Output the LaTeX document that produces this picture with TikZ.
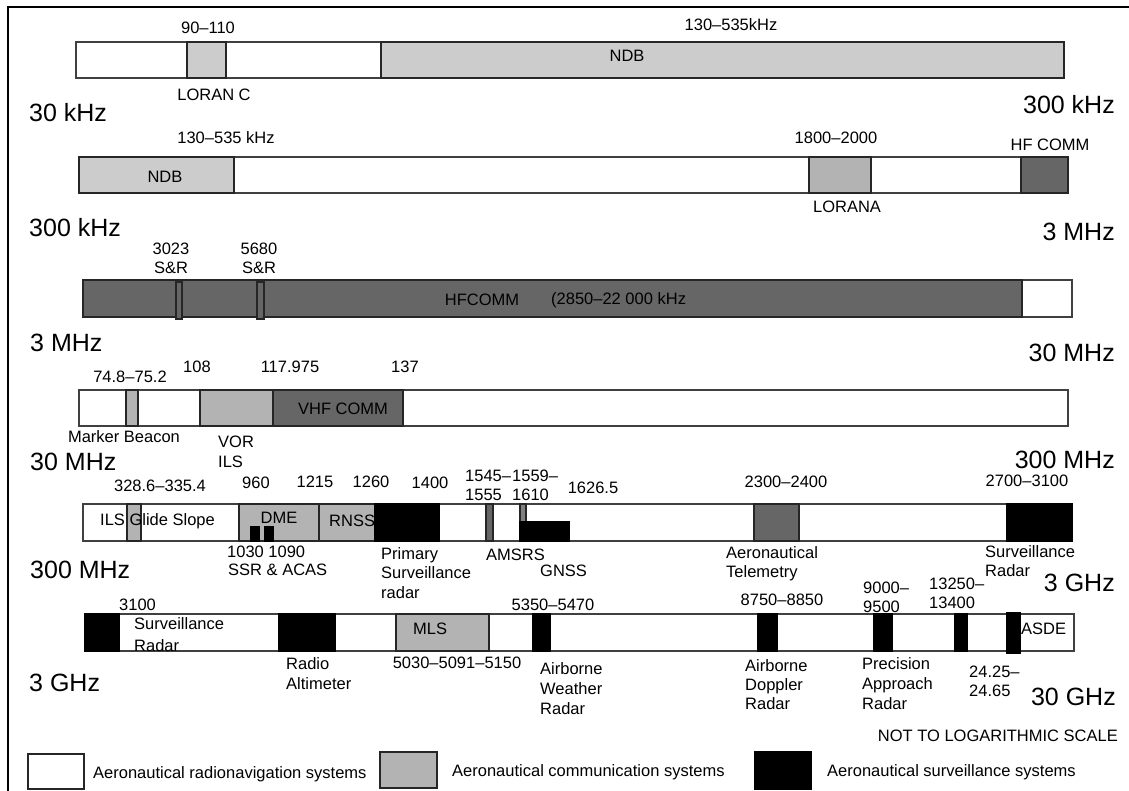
\documentclass[tikz,border=0pt]{standalone}
\usepackage{fontspec}
\setmainfont{Liberation Sans}
\definecolor{lg}{HTML}{CCCCCC}
\definecolor{mg}{HTML}{B3B3B3}
\definecolor{dg}{HTML}{666666}
\begin{document}
\begin{tikzpicture}[x=1pt,y=-1pt,
  lab/.style={font=\fontsize{16.5}{19}\selectfont,inner sep=0pt},
  mlab/.style={font=\fontsize{16.5}{#1}\selectfont,inner sep=0pt,align=left,anchor=west},
  big/.style={font=\fontsize{25}{28}\selectfont,inner sep=0pt},
  bar/.style={draw=black!75,line width=1.3pt,fill=white},
  seg/.style={draw=black!85,line width=1.3pt},
  lgt/.style={seg,fill=lg},
  mid/.style={seg,fill=mg},
  drk/.style={seg,fill=dg},
  blk/.style={seg,fill=black,draw=black}]
\path[use as bounding box] (0,0) rectangle (1129,791);
\draw[line width=1.8pt] (8,791) -- (8,7) -- (1129,7);

% ---------- band 1 : 30 kHz - 300 kHz
\draw[bar] (76,42) rectangle (1064,78);
\draw[lgt] (187,42) rectangle (226,78);
\draw[lgt] (381,42) rectangle (1064,78);
\node[lab] (b1a) at (208,28) {90–110};
\node[lab] (b1b) at (731,25) {130–535kHz};
\node[lab] (b1c) at (627,56) {NDB};
\node[lab] (b1d) at (214,95) {LORAN C};
\node[big,anchor=west] (b1l) at (29,113) {30 kHz};
\node[big,anchor=east] (b1r) at (1115,105) {300 kHz};

% ---------- band 2 : 300 kHz - 3 MHz
\draw[bar] (79,157) rectangle (1068,193);
\draw[lgt] (79,157) rectangle (234,193);
\draw[mid] (809,157) rectangle (871,193);
\draw[drk] (1021,157) rectangle (1068,193);
\node[lab] (b2a) at (226,138) {130–535 kHz};
\node[lab] (b2b) at (165,177) {NDB};
\node[lab] (b2c) at (836,138) {1800–2000};
\node[lab] (b2d) at (1050,145) {HF COMM};
\node[lab] (b2e) at (847,207) {LORANA};
\node[big,anchor=west] (b2l) at (29,228) {300 kHz};
\node[big,anchor=east] (b2r) at (1115,232) {3 MHz};

% ---------- band 3 : 3 MHz - 30 MHz
\draw[bar] (83,280) rectangle (1072,317);
\draw[drk] (83,280) rectangle (1022,317);
\draw[drk] (176,282) rectangle (182,319);
\draw[drk] (257,282) rectangle (264,319);
\node[lab,align=center,font=\fontsize{16.5}{19}\selectfont] (b3a) at (171,258) {3023\\S\&R};
\node[lab,align=center,font=\fontsize{16.5}{19}\selectfont] (b3b) at (259,258) {5680\\S\&R};
\node[lab] (b3c) at (482,300) {HFCOMM};
\node[lab,anchor=west] (b3d) at (551,300) {(2850–22 000 kHz};
\node[big,anchor=west] (b3l) at (30,343) {3 MHz};
\node[big,anchor=east] (b3r) at (1115,353) {30 MHz};

% ---------- band 4 : 30 MHz - 300 MHz
\draw[bar] (79,390) rectangle (1068,426);
\draw[mid] (126,390) rectangle (138,426);
\draw[mid] (200,390) rectangle (273,426);
\draw[drk] (273,390) rectangle (403,426);
\node[lab] (b4a) at (130,377) {74.8–75.2};
\node[lab] (b4b) at (197,367) {108};
\node[lab] (b4c) at (290,367) {117.975};
\node[lab] (b4d) at (405,367) {137};
\node[lab] (b4e) at (343,409) {VHF COMM};
\node[lab] (b4f) at (124,437) {Marker Beacon};
\node[mlab=20] (b4g) at (218,452) {VOR\\ILS};
\node[big,anchor=west] (b4l) at (30,462) {30 MHz};
\node[big,anchor=east] (b4r) at (1115,460) {300 MHz};

% ---------- band 5 : 300 MHz - 3 GHz
\draw[bar] (83,504) rectangle (1072,541);
\draw[mid] (127,504) rectangle (141,541);
\draw[mid] (239,504) rectangle (319,541);
\draw[blk] (251,527) rectangle (259,541);
\draw[blk] (265,527) rectangle (273,541);
\draw[mid] (319,504) rectangle (375,541);
\draw[blk] (375,504) rectangle (439,541);
\draw[drk] (486,504) rectangle (493,541);
\draw[seg,fill=gray] (520,504) rectangle (526,522);
\draw[blk] (520,522) rectangle (569,541);
\draw[drk] (754,504) rectangle (799,541);
\draw[blk] (1007,504) rectangle (1072,541);
\node[lab] (b5a) at (160,486) {328.6–335.4};
\node[lab] (b5b) at (256,483) {960};
\node[lab] (b5c) at (315,482) {1215};
\node[lab] (b5d) at (371,482) {1260};
\node[lab] (b5e) at (430,483) {1400};
\node[mlab=19] (b5f) at (465,485) {1545–\\1555};
\node[mlab=19] (b5g) at (512,485) {1559–\\1610};
\node[lab] (b5h) at (593,488) {1626.5};
\node[lab] (b5i) at (786,482) {2300–2400};
\node[lab] (b5j) at (1027,481) {2700–3100};
\node[lab,anchor=west] (b5k) at (100,521) {ILS Glide Slope};
\node[lab] (b5l) at (279,518) {DME};
\node[lab,anchor=west] (b5m) at (329,521) {RNSS};
\node[lab,anchor=west] (b5n) at (227,552) {1030 1090};
\node[lab,anchor=west] (b5o) at (228,570) {SSR \& ACAS};
\node[mlab=19.5] (b5p) at (381,573) {Primary\\Surveillance\\radar};
\node[lab,anchor=west] (b5q) at (486,555) {AMSRS};
\node[lab,anchor=west] (b5r) at (540,571) {GNSS};
\node[mlab=19] (b5s) at (726,564) {Aeronautical\\Telemetry};
\node[mlab=19] (b5t) at (985,561) {Surveillance\\Radar};
\node[big,anchor=west] (b5lft) at (30,570) {300 MHz};
\node[big,anchor=east] (b5rgt) at (1115,583) {3 GHz};

% ---------- band 6 : 3 GHz - 30 GHz
\draw[bar] (85,614) rectangle (1074,651);
\draw[blk] (85,614) rectangle (119,651);
\draw[blk] (279,614) rectangle (335,651);
\draw[mid] (396,614) rectangle (489,651);
\draw[blk] (533,614) rectangle (550,651);
\draw[blk] (758,614) rectangle (777,651);
\draw[blk] (874,614) rectangle (892,651);
\draw[blk] (955,614) rectangle (967,651);
\draw[blk] (1007,613) rectangle (1020,653);
\node[lab,anchor=west] (b6a) at (119,605) {3100};
\node[mlab=22] (b6b) at (134,635) {Surveillance\\Radar};
\node[lab,anchor=west] (b6c) at (413,629) {MLS};
\node[lab,anchor=west] (b6d) at (1021,629) {ASDE};
\node[lab] (b6e) at (553,605) {5350–5470};
\node[lab] (b6f) at (782,600) {8750–8850};
\node[mlab=19] (b6g) at (863,597) {9000–\\9500};
\node[mlab=19] (b6h) at (929,593) {13250–\\13400};
\node[mlab=20] (b6i) at (286,674) {Radio\\Altimeter};
\node[lab] (b6j) at (457,663) {5030–5091–5150};
\node[mlab=20] (b6k) at (540,689) {Airborne\\Weather\\Radar};
\node[mlab=19] (b6l) at (745,685) {Airborne\\Doppler\\Radar};
\node[mlab=20] (b6m) at (862,684) {Precision\\Approach\\Radar};
\node[mlab=19] (b6n) at (969,681) {24.25–\\24.65};
\node[big,anchor=west] (b6lft) at (29,683) {3 GHz};
\node[big,anchor=east] (b6rgt) at (1116,697) {30 GHz};
\node[lab,anchor=east] (scale) at (1118,736) {NOT TO LOGARITHMIC SCALE};

% ---------- legend
\draw[seg,fill=white] (28,754) rectangle (84,789);
\draw[mid] (380,752) rectangle (437,788);
\draw[blk] (755,752) rectangle (811,789);
\node[lab,anchor=west] (lg1) at (93,774) {Aeronautical radionavigation systems};
\node[lab,anchor=west] (lg2) at (452,772) {Aeronautical communication systems};
\node[lab,anchor=west] (lg3) at (827,772) {Aeronautical surveillance systems};
\end{tikzpicture}
\end{document}
